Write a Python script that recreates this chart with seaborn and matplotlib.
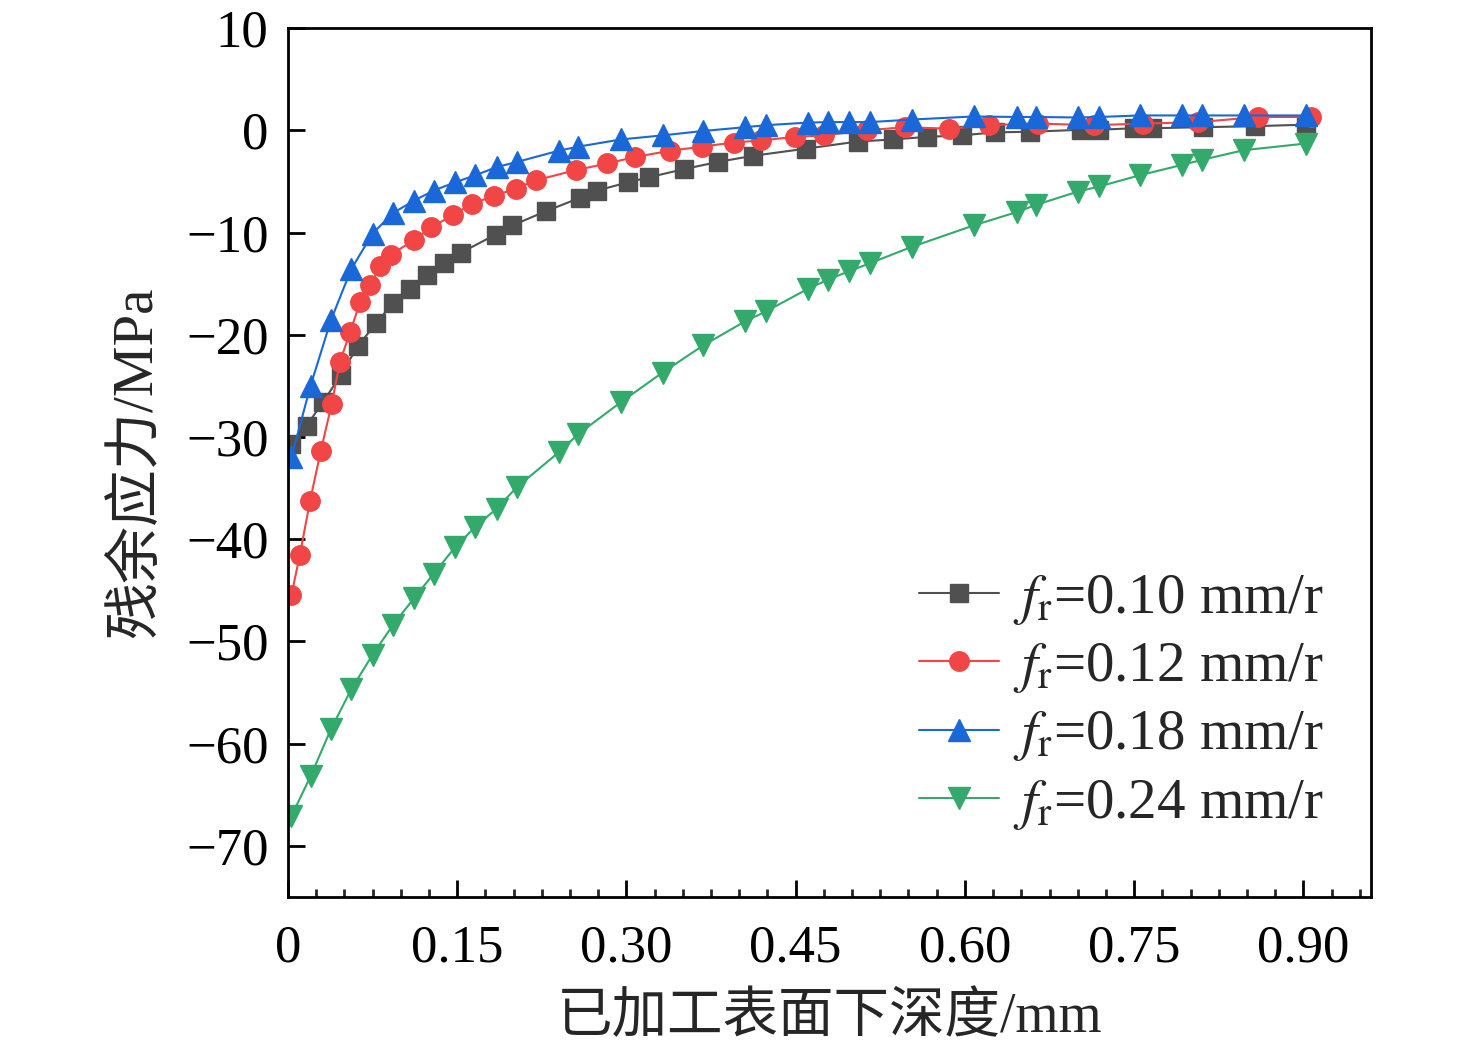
import matplotlib
matplotlib.use("Agg")
import matplotlib.pyplot as plt
import seaborn as sns
from matplotlib.ticker import MultipleLocator

# profundidad (mm) y tension residual (MPa)
x_010 = [0.003, 0.0165, 0.031, 0.047, 0.062, 0.078, 0.093, 0.108, 0.123, 0.138, 0.153,
         0.184, 0.199, 0.229, 0.259, 0.274, 0.301, 0.320, 0.351, 0.381, 0.412, 0.459,
         0.505, 0.536, 0.566, 0.597, 0.627, 0.658, 0.703, 0.719, 0.750, 0.766, 0.811,
         0.857, 0.902]
y_010 = [-30.7, -28.9, -26.6, -23.9, -21.1, -18.9, -16.9, -15.5, -14.2, -13.0, -12.0,
         -10.2, -9.3, -7.9, -6.6, -5.9, -5.1, -4.6, -3.8, -3.1, -2.5, -1.8,
         -1.1, -0.9, -0.65, -0.5, -0.2, -0.15, 0.05, 0.05, 0.2, 0.2, 0.3,
         0.4, 0.55]

x_012 = [0.003, 0.0106, 0.0195, 0.029, 0.0387, 0.046, 0.055, 0.064, 0.073, 0.082, 0.091,
         0.112, 0.127, 0.146, 0.163, 0.183, 0.202, 0.2195, 0.255, 0.283, 0.308, 0.339,
         0.367, 0.395, 0.419, 0.449, 0.475, 0.513, 0.547, 0.586, 0.621, 0.665, 0.714,
         0.758, 0.807, 0.860, 0.907]
y_012 = [-45.5, -41.5, -36.3, -31.4, -26.8, -22.7, -19.75, -16.8, -15.1, -13.3, -12.2,
         -10.7, -9.5, -8.3, -7.2, -6.4, -5.7, -4.9, -3.9, -3.25, -2.6, -2.0,
         -1.6, -1.2, -1.0, -0.65, -0.5, 0.0, 0.3, 0.15, 0.5, 0.65, 0.5,
         0.65, 0.8, 1.3, 1.3]

# 0.18 y 0.24 comparten la misma malla
x_malla = [0.003, 0.020, 0.038, 0.056, 0.075, 0.093, 0.1115, 0.129, 0.148, 0.166, 0.185,
           0.203, 0.240, 0.2575, 0.295, 0.332, 0.368, 0.405, 0.424, 0.461, 0.479, 0.497,
           0.516, 0.553, 0.608, 0.646, 0.663, 0.700, 0.719, 0.755, 0.792, 0.810, 0.847,
           0.902]
y_018 = [-32.0, -25.0, -18.6, -13.6, -10.1, -8.1, -6.9, -5.9, -5.1, -4.4, -3.6,
         -3.1, -2.0, -1.6, -0.9, -0.5, -0.07, 0.3, 0.5, 0.75, 0.8, 0.8,
         0.8, 1.05, 1.35, 1.3, 1.3, 1.25, 1.3, 1.45, 1.45, 1.45, 1.45,
         1.45]
y_024 = [-67.1, -63.2, -58.6, -54.7, -51.3, -48.4, -45.8, -43.4, -40.8, -38.8, -37.0,
         -34.9, -31.5, -29.7, -26.6, -23.7, -21.05, -18.7, -17.7, -15.5, -14.6, -13.8,
         -13.0, -11.4, -9.3, -8.0, -7.3, -6.0, -5.5, -4.4, -3.4, -2.9, -1.95,
         -1.3]

etiquetas = ["0.10", "0.12", "0.18", "0.24"]
colores = ["#505050", "#f24545", "#1a68d8", "#33aa6b"]
marcadores = ["s", "o", "^", "v"]
tamanos = [13.5, 14, 16, 16]

xticks = [0, 0.15, 0.30, 0.45, 0.60, 0.75, 0.90]
xtick_labels = ["0", "0.15", "0.30", "0.45", "0.60", "0.75", "0.90"]
yticks = [-70, -60, -50, -40, -30, -20, -10, 0, 10]

sns.set_theme(style="ticks")
plt.rcParams["font.family"] = ["Liberation Serif", "Noto Sans CJK SC"]
plt.rcParams["mathtext.fontset"] = "stix"
plt.rcParams["axes.unicode_minus"] = True

fig = plt.figure(figsize=(14.76, 10.5), dpi=100)
ax = fig.add_axes([0.1951, 0.1457, 0.9289 - 0.1951, 0.9733 - 0.1457])

series = [(x_010, y_010), (x_012, y_012), (x_malla, y_018), (x_malla, y_024)]
for (xs, ys), et, c, m, ms in zip(series, etiquetas, colores, marcadores, tamanos):
    sns.lineplot(x=xs, y=ys, ax=ax, color=c, marker=m, markersize=ms,
                 markeredgewidth=1, markeredgecolor=c, linewidth=1.5,
                 label=r"$f_{\mathrm{r}}$=" + et + " mm/r")

ax.set_xlim(0, 0.96)
ax.set_ylim(-75, 10)
ax.set_xticks(xticks)
ax.set_xticklabels(xtick_labels)
ax.set_yticks(yticks)
ax.xaxis.set_minor_locator(MultipleLocator(0.025))

ax.tick_params(axis="both", which="major", direction="in", length=12, width=2,
               labelsize=38, colors="black")
ax.tick_params(axis="x", which="major", pad=20)
ax.tick_params(axis="y", which="major", pad=14)
ax.tick_params(axis="x", which="minor", direction="in", length=6, width=2)
for s in ax.spines.values():
    s.set_linewidth(2)
    s.set_color("black")

ax.set_xlabel("已加工表面下深度/mm", fontsize=40, labelpad=14)
ax.set_ylabel("残余应力/MPa", fontsize=41, labelpad=16)

ax.legend(loc="center left", bbox_to_anchor=(0.583, 0.224), frameon=False,
          fontsize=41, handlelength=1.4, handletextpad=0.25, labelspacing=0.25,
          borderpad=0, borderaxespad=0)

fig.savefig("out.png", dpi=100)
